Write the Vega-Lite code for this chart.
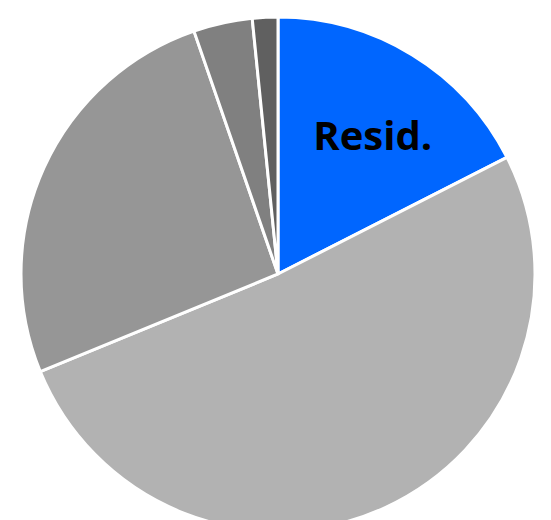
{
  "$schema": "https://vega.github.io/schema/vega-lite/v6.json",
  "width": 546,
  "height": 492,
  "autosize": {"type": "none"},
  "padding": {"left": 5, "top": 28, "right": 0, "bottom": 0},
  "background": "white",
  "data": {
    "values": [
      {"sector": "Resid.", "value": 17.5, "idx": 1, "label": "Resid."},
      {"sector": "B", "value": 51.3, "idx": 2, "label": ""},
      {"sector": "C", "value": 25.9, "idx": 3, "label": ""},
      {"sector": "D", "value": 3.7, "idx": 4, "label": ""},
      {"sector": "E", "value": 1.6, "idx": 5, "label": ""}
    ]
  },
  "encoding": {
    "theta": {"field": "value", "type": "quantitative", "stack": true},
    "order": {"field": "idx", "type": "quantitative"}
  },
  "layer": [
    {
      "mark": {"type": "arc", "radius": 257, "stroke": "white", "strokeWidth": 3},
      "encoding": {
        "color": {
          "field": "sector",
          "type": "nominal",
          "scale": {"domain": ["Resid.", "B", "C", "D", "E"], "range": ["#0066ff", "#b2b2b2", "#969696", "#808080", "#606060"]},
          "legend": null
        }
      }
    },
    {
      "mark": {"type": "text", "radius": 166, "font": "Open Sans", "fontWeight": "bold", "fontSize": 40, "color": "black", "dx": 8, "dy": 6},
      "encoding": {"text": {"field": "label"}}
    }
  ]
}
